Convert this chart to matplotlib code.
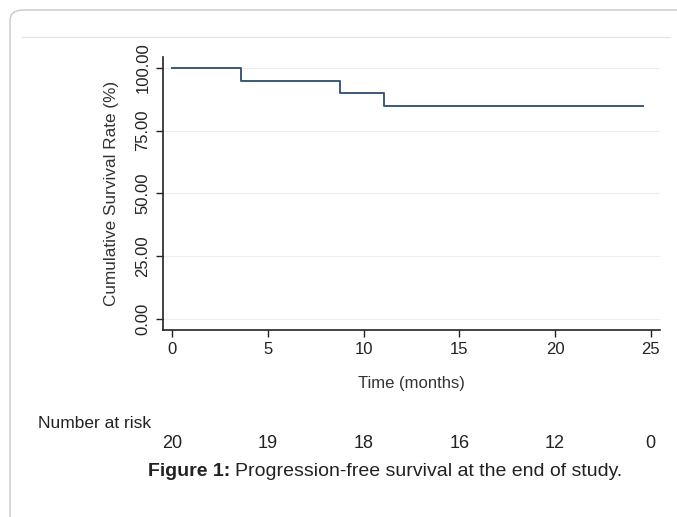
import matplotlib
matplotlib.use("Agg")
import matplotlib.pyplot as plt
from matplotlib.patches import FancyBboxPatch
from matplotlib.lines import Line2D

plt.rcParams['font.family'] = ['Liberation Sans', 'DejaVu Sans']

# Kaplan-Meier steps (time in months, survival %)
step_times = [0, 3.6, 8.75, 11.05, 24.6]
step_surv = [100, 95, 90, 85, 85]

risk_times = [0, 5, 10, 15, 20, 25]
risk_counts = [20, 19, 18, 16, 12, 0]

yticks = [0, 25, 50, 75, 100]
xticks = [0, 5, 10, 15, 20, 25]

fig = plt.figure(figsize=(6.77, 5.17), dpi=100)

# outer rounded frame of the figure box
frame = FancyBboxPatch((10 / 677, -0.1), 1.2, 1.1 - 10 / 517,
                       boxstyle="round,pad=0,rounding_size=0.02",
                       transform=fig.transFigure, facecolor='none',
                       edgecolor='#c8c8c8', linewidth=1.0, zorder=-1)
fig.patches.append(frame)
fig.lines.append(Line2D([22 / 677, 670 / 677], [1 - 37 / 517, 1 - 37 / 517],
                        transform=fig.transFigure, color='#e6e6e6', lw=1))

ax = fig.add_axes([163 / 677, 1 - 330 / 517, (660 - 163) / 677, (330 - 57) / 517])
ax.patch.set_alpha(0)
ax.step(step_times, step_surv, where='post', color='#3b5a78', lw=1.4)

ax.set_xlim(-0.49, 25.49)
ax.set_ylim(-4.5, 104.4)
ax.set_yticks(yticks)
ax.set_yticklabels([f"{v:.2f}" for v in yticks], rotation=90, va='center')
ax.set_xticks(xticks)
ax.tick_params(labelsize=12, colors='#222222', length=5, width=1)
ax.tick_params(axis='y', pad=4)
for y in yticks:
    ax.axhline(y, color='#eeeeee', lw=0.8, zorder=0)
for s in ['top', 'right']:
    ax.spines[s].set_visible(False)
for s in ['left', 'bottom']:
    ax.spines[s].set_linewidth(1.2)
    ax.spines[s].set_color('#222222')

ax.set_ylabel("Cumulative Survival Rate (%)", fontsize=12.3, color='#333333', labelpad=12)
ax.set_xlabel("Time (months)", fontsize=12, color='#333333', labelpad=14)

# number at risk row
fig.text(38 / 677, 1 - 424 / 517, "Number at risk", fontsize=12.5, color='#222222',
         va='center', ha='left')
for t, n in zip(risk_times, risk_counts):
    xf = fig.transFigure.inverted().transform(ax.transData.transform((t, 0)))[0]
    fig.text(xf, 1 - 444 / 517, str(n), fontsize=13, color='#222222',
             ha='center', va='center')

# caption
fig.text(0.340, 1 - 471 / 517, "Figure 1:", fontsize=14, fontweight='bold',
         ha='right', va='center', color='#222222')
fig.text(0.347, 1 - 471 / 517, "Progression-free survival at the end of study.",
         fontsize=14, ha='left', va='center', color='#222222')

fig.savefig("out.png", dpi=100)
